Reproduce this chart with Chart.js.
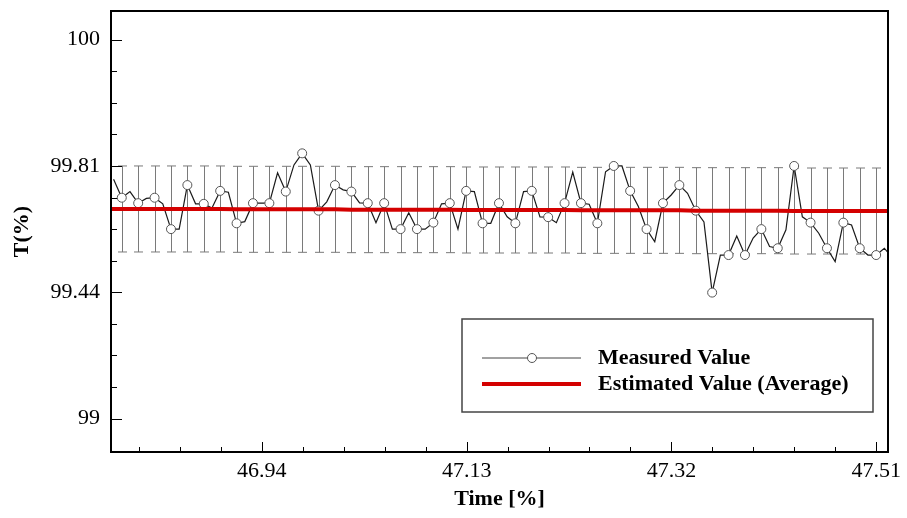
<!DOCTYPE html>
<html>
<head>
<meta charset="utf-8">
<script src="https://cdn.jsdelivr.net/npm/chart.js@4.4.0/dist/chart.umd.min.js"></script>
<style>
html, body { margin: 0; padding: 0; background: #fff; }
#wrap { width: 907px; height: 518px; }
</style>
</head>
<body>
<div id="wrap"><canvas id="myChart"></canvas></div>
<script>
// line is sampled every half marker step, a marker sits on every other sample
const timeStart = 46.80239;
const timeStep = 0.0076087;

const measured = [
  99.771, 99.717, 99.735, 99.701, 99.715, 99.717, 99.699, 99.625, 99.625, 99.754,
  99.699, 99.699, 99.687, 99.737, 99.733, 99.642, 99.647, 99.701, 99.701, 99.701,
  99.790, 99.735, 99.813, 99.847, 99.813, 99.679, 99.705, 99.754, 99.740, 99.735,
  99.702, 99.701, 99.644, 99.701, 99.625, 99.625, 99.673, 99.625, 99.625, 99.644,
  99.699, 99.701, 99.625, 99.737, 99.735, 99.642, 99.642, 99.701, 99.661, 99.642,
  99.735, 99.737, 99.661, 99.660, 99.644, 99.701, 99.792, 99.701, 99.698, 99.642,
  99.793, 99.810, 99.810, 99.737, 99.691, 99.625, 99.588, 99.701, 99.725, 99.754,
  99.730, 99.679, 99.646, 99.439, 99.549, 99.549, 99.605, 99.549, 99.599, 99.625,
  99.574, 99.569, 99.623, 99.810, 99.661, 99.644, 99.613, 99.569, 99.530, 99.644,
  99.637, 99.569, 99.549, 99.549, 99.569, 99.540
];

// average at each marker (centre of the error bars)
const estimated = [
  99.684, 99.684, 99.684, 99.684, 99.684, 99.684, 99.684,
  99.683, 99.683, 99.683, 99.683, 99.683, 99.683, 99.683,
  99.682, 99.682, 99.682, 99.682, 99.682, 99.682, 99.682,
  99.681, 99.681, 99.681, 99.681, 99.681, 99.681, 99.681,
  99.680, 99.680, 99.680, 99.680, 99.680, 99.680, 99.680,
  99.679, 99.679, 99.679, 99.679, 99.679, 99.679,
  99.678, 99.678, 99.678, 99.678, 99.678, 99.678
];
const errHalf = 0.126;

const xTicks = [46.94, 47.13, 47.32, 47.51];
const xTickLabels = ['46.94', '47.13', '47.32', '47.51'];
const xMinor = [46.826, 46.864, 46.902, 46.978, 47.016, 47.054, 47.092, 47.168,
  47.206, 47.244, 47.282, 47.358, 47.396, 47.434, 47.472];
const yTicks = [99.07, 99.44, 99.81, 100.18];
const yTickLabels = ['99', '99.44', '99.81', '100'];
const yMinor = [99.1625, 99.255, 99.3475, 99.5325, 99.625, 99.7175, 99.9025, 99.995, 100.0875];

const xMin = 46.80, xMax = 47.521;
const yMin = 98.972, yMax = 100.264;

const times = measured.map((v, k) => timeStart + k * timeStep);
const isMarker = k => k % 2 === 1 && k < 2 * estimated.length;
const markerTimes = estimated.map((v, i) => times[2 * i + 1]);

const serif = '"Liberation Serif", "Times New Roman", serif';

const errorBars = {
  id: 'errorBars',
  beforeDatasetsDraw(chart) {
    const {ctx, scales: {x, y}} = chart;
    ctx.save();
    ctx.strokeStyle = '#7a7a7a';
    ctx.lineWidth = 1;
    estimated.forEach((e, i) => {
      const px = Math.round(x.getPixelForValue(markerTimes[i])) + 0.5;
      const top = y.getPixelForValue(e + errHalf);
      const bot = y.getPixelForValue(e - errHalf);
      ctx.beginPath();
      ctx.moveTo(px, top); ctx.lineTo(px, bot);
      ctx.moveTo(px - 4.5, top); ctx.lineTo(px + 4.5, top);
      ctx.moveTo(px - 4.5, bot); ctx.lineTo(px + 4.5, bot);
      ctx.stroke();
    });
    ctx.restore();
  }
};

const frame = {
  id: 'frame',
  afterDatasetsDraw(chart) {
    const {ctx, chartArea: a, scales: {x, y}} = chart;
    ctx.save();
    ctx.strokeStyle = '#000';
    ctx.lineWidth = 1;
    ctx.beginPath();
    xTicks.forEach(v => { const p = Math.round(x.getPixelForValue(v)) + 0.5; ctx.moveTo(p, a.bottom); ctx.lineTo(p, a.bottom - 10); });
    xMinor.forEach(v => { const p = Math.round(x.getPixelForValue(v)) + 0.5; ctx.moveTo(p, a.bottom); ctx.lineTo(p, a.bottom - 5); });
    yTicks.forEach(v => { const p = Math.round(y.getPixelForValue(v)) + 0.5; ctx.moveTo(a.left, p); ctx.lineTo(a.left + 11, p); });
    yMinor.forEach(v => { const p = Math.round(y.getPixelForValue(v)) + 0.5; ctx.moveTo(a.left, p); ctx.lineTo(a.left + 6, p); });
    ctx.stroke();
    ctx.lineWidth = 2;
    ctx.strokeRect(a.left, a.top, a.right - a.left, a.bottom - a.top);
    ctx.restore();
  }
};

const boxLegend = {
  id: 'boxLegend',
  afterDraw(chart) {
    const {ctx, chartArea: a} = chart;
    const x0 = a.left + 351, y0 = a.top + 308, w = 411, h = 93;
    ctx.save();
    ctx.fillStyle = '#fff';
    ctx.fillRect(x0, y0, w, h);
    ctx.strokeStyle = '#444';
    ctx.lineWidth = 1.5;
    ctx.strokeRect(x0, y0, w, h);
    chart.data.datasets.forEach((ds, i) => {
      const ly = y0 + 39 + i * 26;
      const lx = x0 + 20;
      ctx.beginPath();
      ctx.moveTo(lx, ly); ctx.lineTo(lx + 99, ly);
      ctx.strokeStyle = i === 0 ? '#444' : ds.borderColor;
      ctx.lineWidth = i === 0 ? 1 : ds.borderWidth;
      ctx.stroke();
      if (i === 0) {
        ctx.beginPath();
        ctx.arc(lx + 50, ly, 4.5, 0, Math.PI * 2);
        ctx.fillStyle = '#fff';
        ctx.fill();
        ctx.strokeStyle = ds.pointBorderColor;
        ctx.stroke();
      }
      ctx.fillStyle = '#000';
      ctx.font = 'bold 22px ' + serif;
      ctx.textBaseline = 'middle';
      ctx.fillText(ds.label, x0 + 136, ly);
    });
    ctx.restore();
  }
};

const redLine = [{x: xMin, y: estimated[0]}]
  .concat(estimated.map((e, i) => ({x: markerTimes[i], y: e})))
  .concat([{x: xMax, y: estimated[estimated.length - 1]}]);

const ctx = document.querySelector('#myChart');
const myChart = new Chart(ctx, {
  type: 'line',
  data: {
    datasets: [{
      label: 'Measured Value',
      data: times.map((t, k) => ({x: t, y: measured[k]})),
      borderColor: '#1a1a1a',
      borderWidth: 1.2,
      pointRadius: c => isMarker(c.dataIndex) ? 4.5 : 0,
      pointBackgroundColor: '#fff',
      pointBorderColor: '#555',
      pointBorderWidth: 1,
      tension: 0,
      clip: 0,
      order: 2
    }, {
      label: 'Estimated Value (Average)',
      data: redLine,
      borderColor: '#d40000',
      borderWidth: 4,
      pointRadius: 0,
      clip: 0,
      order: 1
    }]
  },
  options: {
    responsive: true,
    maintainAspectRatio: false,
    animation: false,
    devicePixelRatio: 1,
    layout: { padding: { top: 11, right: 19, left: 0, bottom: 0 } },
    plugins: { legend: { display: false }, tooltip: { enabled: false } },
    scales: {
      x: {
        type: 'linear', min: xMin, max: xMax, bounds: 'data',
        grid: { display: false, drawTicks: false },
        border: { display: false },
        afterBuildTicks: s => { s.ticks = xTicks.map(v => ({value: v})); },
        afterFit: s => { s.height = 66; s.paddingLeft = 0; s.paddingRight = 0; },
        ticks: {
          autoSkip: false, maxRotation: 0, padding: 6, color: '#000',
          font: { family: serif, size: 22 },
          callback: (v, i) => xTickLabels[i]
        },
        title: {
          display: true, text: 'Time [%]', color: '#000',
          font: { family: serif, size: 22, weight: 'bold' },
          padding: { top: 0, bottom: 5 }
        }
      },
      y: {
        type: 'linear', min: yMin, max: yMax, bounds: 'data',
        grid: { display: false, drawTicks: false },
        border: { display: false },
        afterBuildTicks: s => { s.ticks = yTicks.map(v => ({value: v})); },
        afterFit: s => { s.width = 111; s.paddingTop = 0; s.paddingBottom = 0; },
        ticks: {
          autoSkip: false, padding: 11, color: '#000',
          font: { family: serif, size: 22 },
          callback: (v, i) => yTickLabels[i]
        },
        title: {
          display: true, text: 'T(%)', color: '#000',
          font: { family: serif, size: 22, weight: 'bold' },
          padding: { top: 9, bottom: 0 }
        }
      }
    }
  },
  plugins: [errorBars, frame, boxLegend]
});
</script>
</body>
</html>
